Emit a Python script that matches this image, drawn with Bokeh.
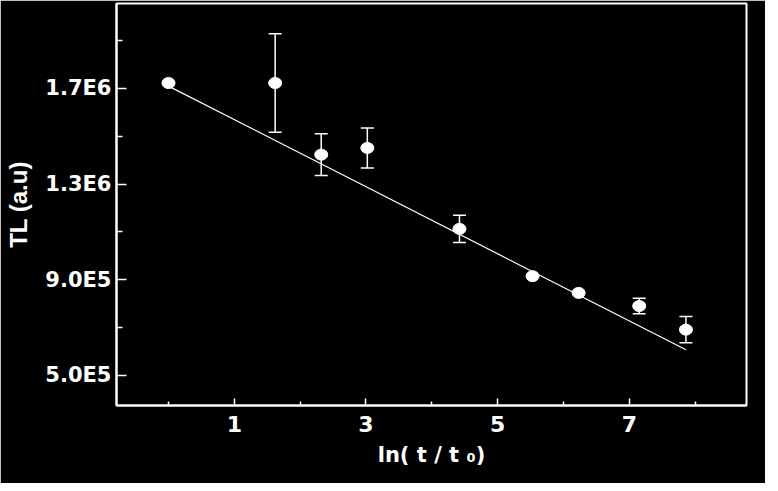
from bokeh.plotting import figure
from bokeh.models import (ColumnDataSource, FixedTicker, Whisker, TeeHead, Range1d)
from bokeh.embed import file_html
from bokeh.resources import INLINE

# ---- data ----
ln_t = [0.0, 1.62, 2.32, 3.02, 4.42, 5.53, 6.23, 7.15, 7.86]
tl = [1.723e6, 1.723e6, 1.423e6, 1.451e6, 1.112e6, 9.14e5, 8.44e5, 7.89e5, 6.90e5]
tl_err = [0.0, 2.06e5, 8.7e4, 8.4e4, 5.7e4, 0.0, 0.0, 3.2e4, 5.5e4]

fit_x = [0.0, 7.86]
fit_y = [1.71e6, 6.06e5]

x_major = [1, 3, 5, 7]
x_minor = [0, 2, 4, 6, 8]
y_major = [5.0e5, 9.0e5, 1.3e6, 1.7e6]
y_minor = [7.0e5, 1.1e6, 1.5e6, 1.9e6]
y_tick_labels = ["5.0E5", "9.0E5", "1.3E6", "1.7E6"]

FONT = "DejaVu Sans"

p = figure(width=765, height=483, output_backend="svg", toolbar_location=None,
           x_range=Range1d(-0.79, 8.78), y_range=Range1d(3.723e5, 2.056e6),
           min_border_left=116, min_border_right=19, min_border_top=3,
           min_border_bottom=78)

p.background_fill_color = "black"
p.border_fill_color = "black"
p.outline_line_color = "white"
p.outline_line_width = 2
p.xgrid.visible = False
p.ygrid.visible = False

# axes
for ax in (p.xaxis[0], p.yaxis[0]):
    ax.axis_line_color = "white"
    ax.axis_line_width = 2
    ax.major_tick_line_color = "white"
    ax.minor_tick_line_color = "white"
    ax.major_tick_line_width = 1.5
    ax.minor_tick_line_width = 1.5
    ax.major_tick_out = 0
    ax.minor_tick_out = 0
    ax.major_label_text_color = "white"
    ax.major_label_text_font = FONT
    ax.major_label_text_font_style = "bold"
    ax.axis_label_text_color = "white"
    ax.axis_label_text_font = FONT
    ax.axis_label_text_font_style = "bold"

p.xaxis.ticker = FixedTicker(ticks=x_major, minor_ticks=x_minor)
p.xaxis.major_tick_in = 7
p.xaxis.minor_tick_in = 4
p.xaxis.major_label_text_font_size = "22px"
p.xaxis.major_label_standoff = 10
p.xaxis.axis_label = "ln( t / t \u2080)"
p.xaxis.axis_label_text_font_size = "21px"
p.xaxis.axis_label_standoff = 8

p.yaxis.ticker = FixedTicker(ticks=y_major, minor_ticks=y_minor)
p.yaxis.major_label_overrides = {v: s for v, s in zip(y_major, y_tick_labels)}
p.yaxis.major_tick_in = 10
p.yaxis.minor_tick_in = 6
p.yaxis.major_label_text_font_size = "21px"
p.yaxis.major_label_standoff = 5
p.yaxis.axis_label = "TL (a.u)"
p.yaxis.axis_label_text_font = "Liberation Sans"
p.yaxis.axis_label_text_font_size = "24px"
p.yaxis.axis_label_standoff = 10

# fit line
p.line(fit_x, fit_y, line_color="white", line_width=1.2)

# error bars (only where visible)
ex = [x for x, e in zip(ln_t, tl_err) if e > 0]
ey = [y for y, e in zip(tl, tl_err) if e > 0]
ee = [e for e in tl_err if e > 0]
err_src = ColumnDataSource(dict(x=ex, upper=[y + e for y, e in zip(ey, ee)],
                                lower=[y - e for y, e in zip(ey, ee)]))
w = Whisker(base="x", upper="upper", lower="lower", source=err_src,
            line_color="white", line_width=1.5,
            upper_head=TeeHead(size=13, line_color="white", line_width=1.5),
            lower_head=TeeHead(size=13, line_color="white", line_width=1.5))
p.add_layout(w)

# points
p.ellipse(x=ln_t, y=tl, width=13, height=11, width_units="screen",
          height_units="screen", fill_color="white", line_color="white")

open("out.html", "w").write(file_html(p, INLINE))
